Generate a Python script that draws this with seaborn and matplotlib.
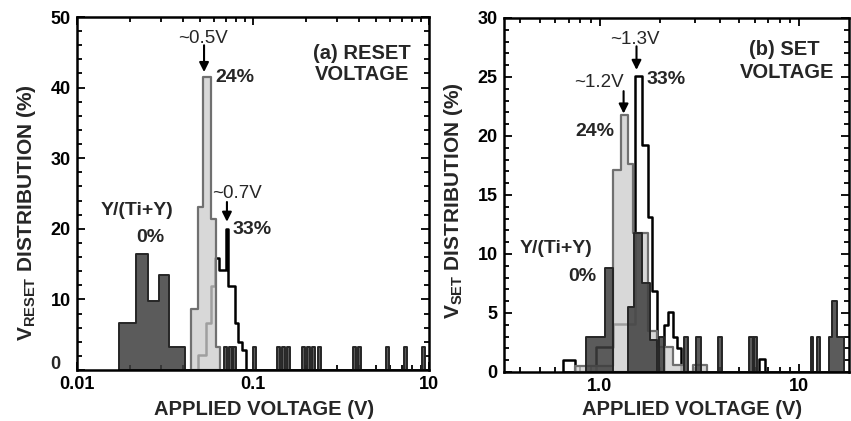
import numpy as np
import matplotlib
matplotlib.use("Agg")
import matplotlib.pyplot as plt
import seaborn as sns
from matplotlib.ticker import (FixedLocator, FixedFormatter, FuncFormatter, LogLocator,
                               NullFormatter, MultipleLocator)

# ---------------------------------------------------------------- data
# Each histogram is given as bins: lower edge, upper edge (V) and share (%).

# (a) RESET voltage
reset_y0_lo = [0.01733, 0.02156, 0.02542, 0.02924, 0.03334, 0.0684, 0.0731, 0.0770, 0.1000,
               0.1369, 0.1461, 0.1561, 0.1900, 0.2027, 0.2163, 0.2341, 0.3700, 0.3950,
               0.5698, 0.7211, 0.9125]
reset_y0_hi = [0.02156, 0.02542, 0.02924, 0.03334, 0.0411, 0.0712, 0.0760, 0.0801, 0.1040,
               0.1423, 0.1520, 0.1623, 0.1975, 0.2108, 0.2249, 0.2434, 0.3846, 0.4108,
               0.5925, 0.7499, 0.9489]
reset_y0_pct = [6.7, 16.5, 9.8, 13.4, 3.3, 3.3, 3.3, 3.3, 3.3,
                3.3, 3.3, 3.3, 3.3, 3.3, 3.3, 3.3, 3.3, 3.3,
                3.3, 3.3, 3.3]

reset_y24_lo = [0.0444, 0.0487, 0.0520, 0.0577, 0.0617]
reset_y24_hi = [0.0487, 0.0520, 0.0577, 0.0617, 0.0649]
reset_y24_pct = [8.7, 23.1, 41.5, 21.4, 3.3]

reset_y33_lo = [0.0487, 0.0541, 0.0577, 0.0608, 0.0643, 0.0702, 0.0724, 0.0790, 0.0825, 0.0863]
reset_y33_hi = [0.0541, 0.0577, 0.0608, 0.0643, 0.0702, 0.0724, 0.0790, 0.0825, 0.0863, 0.0912]
reset_y33_pct = [2.1, 6.7, 11.9, 15.9, 14.2, 20.0, 11.9, 6.7, 4.0, 2.8]

# (b) SET voltage
set_y0_lo = [0.858, 1.059, 1.380, 1.480, 1.622, 1.780, 1.995, 2.661, 3.055, 3.936,
             5.623, 5.950, 11.48, 12.30, 14.13, 14.62, 15.49]
set_y0_hi = [1.059, 1.161, 1.480, 1.622, 1.780, 1.943, 2.090, 2.786, 3.236, 4.121,
             5.860, 6.166, 11.75, 12.74, 14.62, 15.49, 16.79]
set_y0_pct = [3.0, 8.8, 5.5, 11.8, 7.5, 2.7, 3.0, 3.0, 3.0, 3.0,
              3.0, 3.0, 3.0, 3.0, 3.0, 6.0, 3.0]

set_y24_lo = [0.750, 0.858, 1.161, 1.284, 1.380, 1.462, 1.750, 1.943, 2.344, 2.950]
set_y24_hi = [0.858, 1.161, 1.284, 1.380, 1.462, 1.750, 1.943, 2.344, 2.661, 3.470]
set_y24_pct = [0.5, 0.5, 17.1, 21.8, 17.6, 11.8, 3.5, 2.1, 0.6, 0.6]

set_y33_lo = [0.651, 0.963, 1.161, 1.496, 1.622, 1.744, 1.826, 2.113, 2.213, 2.344, 2.455, 6.310]
set_y33_hi = [0.750, 1.161, 1.496, 1.622, 1.744, 1.826, 1.943, 2.213, 2.344, 2.455, 2.570, 6.761]
set_y33_pct = [1.0, 2.1, 4.1, 25.1, 19.2, 13.1, 6.9, 4.0, 5.1, 3.0, 2.0, 1.1]

# ---------------------------------------------------------------- style
sns.set_theme(style="ticks")
plt.rcParams["font.family"] = ["Liberation Sans", "DejaVu Sans"]
plt.rcParams["font.weight"] = "bold"
plt.rcParams["mathtext.fontset"] = "custom"
plt.rcParams["mathtext.rm"] = "Liberation Sans:bold"
plt.rcParams["mathtext.bf"] = "Liberation Sans:bold"
plt.rcParams["mathtext.it"] = "Liberation Sans:bold"

DARK_FACE, DARK_EDGE = "#3e3e3e", "#262626"
LIGHT_FACE, LIGHT_EDGE = "#cdcdcd", "#707070"
TICK_FS, LABEL_FS, NOTE_FS, BOLD_FS, TITLE_FS = 13, 14.5, 13.5, 14, 14.5


def to_bins(lo, hi, pct):
    """Turn bin segments into contiguous edges plus one weighted sample per bin."""
    edges = sorted(set(lo) | set(hi))
    centers = [np.sqrt(l * r) for l, r in zip(lo, hi)]
    return edges, centers, list(pct)


def draw(ax, lo, hi, pct, face, alpha, edge, lw, z):
    edges, centers, weights = to_bins(lo, hi, pct)
    sns.histplot(x=centers, weights=weights, bins=[float(e) for e in np.log10(edges)],
                 log_scale=True, element="step", fill=True, stat="count",
                 color=face, alpha=alpha, edgecolor=edge, linewidth=lw, zorder=z, ax=ax)


def style_axes(ax, ymax, ymajor, yminor):
    ax.set_ylim(0, ymax)
    ax.yaxis.set_major_locator(MultipleLocator(ymajor))
    ax.yaxis.set_minor_locator(MultipleLocator(yminor))
    ax.xaxis.set_minor_locator(LogLocator(base=10, subs=np.arange(2, 10)))
    ax.xaxis.set_minor_formatter(NullFormatter())
    ax.tick_params(which="both", direction="in", top=True, right=True,
                   width=1.3, colors="black", labelsize=TICK_FS, pad=4.5)
    ax.tick_params(which="major", length=6)
    ax.tick_params(which="minor", length=3.5)
    for s in ax.spines.values():
        s.set_linewidth(1.8)
        s.set_color("black")
        s.set_zorder(10)
    for lab in ax.get_xticklabels() + ax.get_yticklabels():
        lab.set_fontweight("bold")


fig = plt.figure(figsize=(8.51, 4.21), dpi=100)
fig.patch.set_facecolor("white")
arrow = dict(arrowstyle="-|>", color="black", lw=1.5, mutation_scale=14, shrinkA=0, shrinkB=0)

# ---------------------------------------------------------------- (a) RESET
ax1 = fig.add_axes([0.0905, 0.1211, 0.4136, 0.8385])
draw(ax1, reset_y33_lo, reset_y33_hi, reset_y33_pct, "white", 1.0, "black", 1.8, 2)
draw(ax1, reset_y24_lo, reset_y24_hi, reset_y24_pct, LIGHT_FACE, 0.78, LIGHT_EDGE, 1.6, 3)
draw(ax1, reset_y0_lo, reset_y0_hi, reset_y0_pct, DARK_FACE, 0.85, DARK_EDGE, 1.4, 4)
ax1.set_xlim(0.01, 1.0)
style_axes(ax1, 50, 10, 2)
ax1.xaxis.set_major_locator(FixedLocator([0.01, 0.1, 1.0]))
ax1.xaxis.set_major_formatter(FixedFormatter(["0.01", "0.1", "10"]))
# the zero of the y axis is written separately, up and left of the corner
ax1.yaxis.set_major_formatter(FuncFormatter(lambda v, pos: "" if v == 0 else f"{v:g}"))
ax1.text(-0.062, 0.016, "0", transform=ax1.transAxes, ha="center", va="center",
         fontsize=TICK_FS, fontweight="bold")
ax1.set_xlabel("APPLIED VOLTAGE (V)", fontsize=LABEL_FS, fontweight="bold")
ax1.set_ylabel(r"V$_{\mathbf{RESET}}$ DISTRIBUTION (%)", fontsize=LABEL_FS + 0.5, fontweight="bold")
ax1.xaxis.set_label_coords(0.531, -0.085)
ax1.yaxis.set_label_coords(-0.112, 0.445)

t1 = ax1.transAxes
ax1.text(0.358, 0.940, "~0.5V", transform=t1, ha="center", va="center", fontsize=NOTE_FS, fontweight="normal")
ax1.text(0.393, 0.830, "24%", transform=t1, ha="left", va="center", fontsize=BOLD_FS, fontweight="bold")
ax1.text(0.81, 0.898, "(a) RESET", transform=t1, ha="center", va="center", fontsize=TITLE_FS, fontweight="bold")
ax1.text(0.81, 0.836, "VOLTAGE", transform=t1, ha="center", va="center", fontsize=TITLE_FS, fontweight="bold")
ax1.text(0.4545, 0.501, "~0.7V", transform=t1, ha="center", va="center", fontsize=NOTE_FS, fontweight="normal")
ax1.text(0.441, 0.399, "33%", transform=t1, ha="left", va="center", fontsize=BOLD_FS, fontweight="bold")
ax1.text(0.170, 0.453, "Y/(Ti+Y)", transform=t1, ha="center", va="center", fontsize=BOLD_FS, fontweight="bold")
ax1.text(0.207, 0.374, "0%", transform=t1, ha="center", va="center", fontsize=BOLD_FS, fontweight="bold")
ax1.annotate("", xy=(0.0527, 42.2), xytext=(0.0527, 46.0), arrowprops=arrow, zorder=6)
ax1.annotate("", xy=(0.0711, 21.0), xytext=(0.0711, 23.8), arrowprops=arrow, zorder=6)

# ---------------------------------------------------------------- (b) SET
ax2 = fig.add_axes([0.5922, 0.1164, 0.4054, 0.8409])
draw(ax2, set_y33_lo, set_y33_hi, set_y33_pct, "white", 1.0, "black", 1.8, 2)
draw(ax2, set_y24_lo, set_y24_hi, set_y24_pct, LIGHT_FACE, 0.78, LIGHT_EDGE, 1.6, 3)
draw(ax2, set_y0_lo, set_y0_hi, set_y0_pct, DARK_FACE, 0.85, DARK_EDGE, 1.4, 4)
ax2.set_xlim(0.331, 17.8)
style_axes(ax2, 30, 5, 1)
ax2.xaxis.set_major_locator(FixedLocator([1.0, 10.0]))
ax2.xaxis.set_major_formatter(FixedFormatter(["1.0", "10"]))
ax2.set_xlabel("APPLIED VOLTAGE (V)", fontsize=LABEL_FS, fontweight="bold")
ax2.set_ylabel(r"V$_{\mathbf{SET}}$ DISTRIBUTION (%)", fontsize=LABEL_FS + 0.5, fontweight="bold")
ax2.xaxis.set_label_coords(0.545, -0.079)
ax2.yaxis.set_label_coords(-0.113, 0.483)

t2 = ax2.transAxes
ax2.text(0.380, 0.938, "~1.3V", transform=t2, ha="center", va="center", fontsize=NOTE_FS, fontweight="normal")
ax2.text(0.4145, 0.825, "33%", transform=t2, ha="left", va="center", fontsize=BOLD_FS, fontweight="bold")
ax2.text(0.275, 0.819, "~1.2V", transform=t2, ha="center", va="center", fontsize=NOTE_FS, fontweight="normal")
ax2.text(0.264, 0.678, "24%", transform=t2, ha="center", va="center", fontsize=BOLD_FS, fontweight="bold")
ax2.text(0.814, 0.910, "(b) SET", transform=t2, ha="center", va="center", fontsize=TITLE_FS, fontweight="bold")
ax2.text(0.820, 0.847, "VOLTAGE", transform=t2, ha="center", va="center", fontsize=TITLE_FS, fontweight="bold")
ax2.text(0.151, 0.350, "Y/(Ti+Y)", transform=t2, ha="center", va="center", fontsize=BOLD_FS, fontweight="bold")
ax2.text(0.226, 0.271, "0%", transform=t2, ha="center", va="center", fontsize=BOLD_FS, fontweight="bold")
ax2.annotate("", xy=(1.53, 25.6), xytext=(1.53, 27.6), arrowprops=arrow, zorder=6)
ax2.annotate("", xy=(1.318, 21.9), xytext=(1.318, 23.8), arrowprops=arrow, zorder=6)

fig.savefig("out.png", dpi=100, facecolor="white")
